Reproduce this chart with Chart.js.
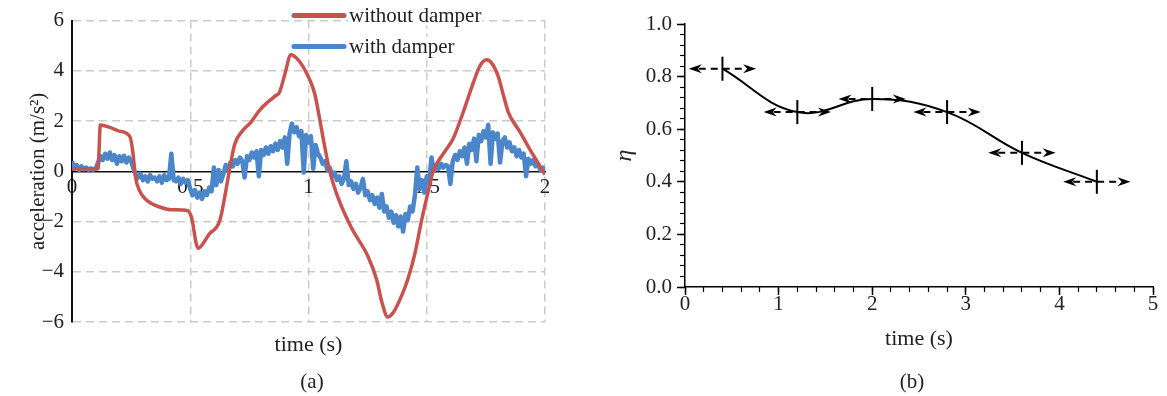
<!DOCTYPE html>
<html>
<head>
<meta charset="utf-8">
<script src="https://cdn.jsdelivr.net/npm/chart.js@4.4.1/dist/chart.umd.min.js"></script>
<style>
  body { margin: 0; background: #fff; width: 1167px; height: 396px; position: relative; overflow: hidden; font-family: 'Liberation Serif', 'DejaVu Serif', serif; }
  .panel { position: absolute; top: 0; }
  .tag { position: absolute; top: 369px; font-size: 21px; line-height: 24px; color: #222; transform: translateX(-50%); }
</style>
</head>
<body>
<div class="panel" style="left:0"><canvas id="accChart" width="583" height="396"></canvas></div>
<div class="panel" style="left:583px"><canvas id="etaChart" width="584" height="396"></canvas></div>
<div class="tag" style="left:312px">(a)</div>
<div class="tag" style="left:912px">(b)</div>
<script>
// (a) acceleration, without damper (smooth red trace)
const redTime = [0, 0.11, 0.12, 0.16, 0.20, 0.245, 0.257, 0.269, 0.286, 0.31, 0.34, 0.38, 0.42, 0.49,
  0.505, 0.533, 0.58, 0.625, 0.65, 0.665, 0.687, 0.72, 0.757, 0.79, 0.827, 0.86, 0.877, 0.898, 0.926,
  0.95, 0.976, 1.0, 1.026, 1.045, 1.062, 1.09, 1.125, 1.18, 1.252, 1.288, 1.31, 1.335, 1.36, 1.393,
  1.42, 1.45, 1.478, 1.50, 1.527, 1.57, 1.612, 1.654, 1.697, 1.725, 1.753, 1.775, 1.802, 1.825, 1.845,
  1.894, 1.95, 2.0]
const redAcc = [0.1, 0.1, 1.84, 1.75, 1.6, 1.38, 0.78, -0.26, -0.78, -1.1, -1.3, -1.45, -1.53, -1.57,
  -1.83, -3.06, -2.5, -1.96, -0.8, 0, 1.05, 1.6, 1.96, 2.4, 2.75, 3.0, 3.14, 3.79, 4.64,
  4.5, 4.18, 3.75, 3.1, 2.2, 1.31, 0, -1.05, -2.22, -3.4, -4.31, -5.2, -5.8, -5.6, -4.97,
  -4.3, -3.27, -1.96, -1.05, 0, 0.7, 1.31, 2.35, 3.53, 4.2, 4.44, 4.3, 3.79, 3.0, 2.35,
  1.57, 0.65, -0.13]

// (a) acceleration, with damper (noisy blue trace), one sample every 0.01 s
const blueStart = 0
const blueStep = 0.01
const blueAcc = [
  0.40, 0.10, 0.25, 0.05, 0.20, 0.08, 0.15, 0.05, 0.12, 0.06,
  0.10, 0.35, 0.60, 0.45, 0.70, 0.50, 0.75, 0.45, 0.65, 0.30,
  0.60, 0.40, 0.62, 0.35, 0.55, 0.40, 0.10, -0.15, -0.25, -0.10,
  -0.35, -0.20, -0.40, -0.15, -0.30, -0.25, -0.40, -0.20, -0.45, -0.15,
  -0.35, -0.30, 0.70, -0.35, -0.40, -0.25, -0.50, -0.30, -0.45, -0.35,
  -0.70, -0.95, -0.75, -1.05, -0.85, -1.10, -0.80, -0.95, -0.65, -0.80,
  0.15, -0.55, 0.05, -0.40, -0.10, 0.25, 0.05, 0.35, 0.20, 0.45,
  0.30, 0.55, 0.40, -0.25, 0.60, 0.45, 0.75, 0.55, 0.80, -0.20,
  0.85, 0.65, 0.95, 0.70, 1.00, 0.80, 1.10, 0.85, 1.20, 0.95,
  1.35, 0.30, 1.50, 1.90, 1.55, 1.75, 1.40, 1.60, -0.05, 1.45,
  1.15, 1.40, 0.10, 1.05, 0.70, 0.55, 0.30, 0.40, 0.05, 0.15,
  -0.20, -0.05, -0.35, -0.20, -0.50, -0.30, 0.40, -0.55, -0.40, -0.70,
  -0.50, -0.85, -0.65, -0.30, -0.95, -0.80, -1.15, -0.95, -1.30, -1.05,
  -1.45, -0.90, -1.60, -1.40, -1.85, -1.60, -2.05, -1.75, -2.20, -1.80,
  -2.40, -1.70, -1.95, -1.40, -1.60, -0.95, 0.15, -0.70, -0.35, -0.85,
  -0.20, -0.45, 0.55, 0.00, 0.20, 0.10, 0.30, 0.15, 0.25, 0.20,
  -0.50, 0.40, 0.65, 0.45, 0.80, 0.60, 0.95, 0.30, 1.10, 0.85,
  1.30, 0.40, 1.45, 1.20, 1.60, 1.35, 1.85, 0.30, 1.55, 1.30,
  1.50, 0.35, 1.20, 1.35, 0.95, 1.15, 0.80, 0.95, 0.60, 0.85,
  0.55, 0.70, -0.20, 0.50, 0.30, 0.45, 0.20, 0.30, 0.05, 0.15,
  0.00]

const accTicks = [-6, -4, -2, 0, 2, 4, 6]
const timeTicksA = [0, 0.5, 1, 1.5, 2]

// (b) efficiency eta
const etaTime = [0.4, 1.2, 2.0, 2.8, 3.6, 4.4]
const etaValue = [0.83, 0.665, 0.715, 0.665, 0.51, 0.40]
const etaSpread = 0.36 // half width of the time arrows (s)
const etaTicks = [0, 0.2, 0.4, 0.6, 0.8, 1.0]
const timeTicksB = [0, 1, 2, 3, 4, 5]

const SERIF = "'Liberation Serif', 'DejaVu Serif', serif"
Chart.defaults.font.family = SERIF
Chart.defaults.color = '#222'

const setTicks = list => scale => { scale.ticks = list.map(v => ({ value: v })) }
const minus = v => String(v).replace('-', '\u2212')
const GRID = '#cbcbcb'

const accLegend = {
  id: 'accLegend',
  afterDraw(chart) {
    const { ctx, chartArea } = chart
    const x0 = chartArea.left + 220
    ctx.save()
    ctx.font = '21px ' + SERIF
    chart.data.datasets.forEach((ds, i) => {
      const y = chartArea.top - 5 + i * 31
      const w = ctx.measureText(ds.label).width
      ctx.fillStyle = '#fff'
      ctx.fillRect(x0 + 56, y - 10, w + 2, 20)
      ctx.strokeStyle = ds.borderColor
      ctx.lineWidth = 5
      ctx.lineCap = 'round'
      ctx.beginPath()
      ctx.moveTo(x0 + 2, y)
      ctx.lineTo(x0 + 52, y)
      ctx.stroke()
      ctx.fillStyle = '#222'
      ctx.textBaseline = 'middle'
      ctx.fillText(ds.label, x0 + 57, y + 1)
    })
    ctx.restore()
  }
}

new Chart(document.getElementById('accChart'), {
  type: 'line',
  data: {
    datasets: [{
      label: 'without damper',
      data: redTime.map((t, i) => ({ x: t, y: redAcc[i] })),
      borderColor: '#c9524f',
      borderWidth: 3.5,
      cubicInterpolationMode: 'monotone',
      pointRadius: 0,
      xAxisID: 'x',
      yAxisID: 'y'
    }, {
      label: 'with damper',
      data: blueAcc.map((a, i) => ({ x: blueStart + i * blueStep, y: a })),
      borderColor: '#4a86c9',
      borderWidth: 4.5,
      borderJoinStyle: 'round',
      tension: 0,
      pointRadius: 0,
      xAxisID: 'x',
      yAxisID: 'y'
    }]
  },
  options: {
    responsive: false,
    animation: false,
    layout: { padding: { left: 0, top: 17, right: 38, bottom: 0 } },
    plugins: { legend: { display: false }, tooltip: { enabled: false } },
    scales: {
      x: {
        type: 'linear', position: 'bottom', min: 0, max: 2,
        afterBuildTicks: setTicks(timeTicksA),
        afterFit: s => { s.height = 74 },
        grid: { color: c => (c.tick && c.tick.value === 0 ? 'rgba(0,0,0,0)' : GRID), lineWidth: 1.5, drawTicks: false },
        border: { display: false, dash: [8, 5] },
        ticks: { display: false },
        title: { display: true, text: 'time (s)', font: { size: 22 }, padding: { top: 0, bottom: 38 } }
      },
      x2: {
        type: 'linear', axis: 'x', position: { y: 0 }, min: 0, max: 2,
        afterBuildTicks: setTicks(timeTicksA),
        grid: { drawOnChartArea: false, drawTicks: false },
        border: { color: '#111', width: 1.5 },
        ticks: { padding: 4, font: { size: 21 }, callback: v => String(v) }
      },
      y: {
        type: 'linear', min: -6, max: 6,
        afterBuildTicks: setTicks(accTicks),
        afterFit: s => { s.width = 72 },
        grid: { color: c => (c.tick && c.tick.value === 0 ? 'rgba(0,0,0,0)' : GRID), lineWidth: 1.5, drawTicks: false },
        border: { color: '#111', width: 2, dash: [8, 5] },
        ticks: { padding: 8, font: { size: 21 }, callback: v => minus(v) },
        title: { display: true, text: 'acceleration (m/s²)', font: { size: 21 }, padding: { top: 26, bottom: 0 } }
      }
    }
  },
  plugins: [accLegend]
})

function arrowHead(ctx, tipX, y, dir) {
  ctx.beginPath()
  ctx.moveTo(tipX, y)
  ctx.lineTo(tipX + dir * 13, y - 4.5)
  ctx.lineTo(tipX + dir * 9, y)
  ctx.lineTo(tipX + dir * 13, y + 4.5)
  ctx.closePath()
  ctx.fill()
}

const etaArrows = {
  id: 'etaArrows',
  afterDatasetsDraw(chart) {
    const { ctx, scales: { x, y } } = chart
    ctx.save()
    ctx.strokeStyle = '#000'
    ctx.fillStyle = '#000'
    ctx.lineWidth = 2
    etaTime.forEach((t, i) => {
      const py = y.getPixelForValue(etaValue[i])
      const l = x.getPixelForValue(t - etaSpread)
      const r = x.getPixelForValue(t + etaSpread)
      ctx.setLineDash([7, 5])
      ctx.beginPath()
      ctx.moveTo(l + 10, py)
      ctx.lineTo(r - 10, py)
      ctx.stroke()
      ctx.setLineDash([])
      arrowHead(ctx, l, py, 1)
      arrowHead(ctx, r, py, -1)
    })
    ctx.restore()
  }
}

new Chart(document.getElementById('etaChart'), {
  type: 'line',
  data: {
    datasets: [{
      label: 'eta',
      data: etaTime.map((t, i) => ({ x: t, y: etaValue[i] })),
      borderColor: '#000',
      borderWidth: 2,
      tension: 0.4,
      pointStyle: 'line',
      pointRotation: 90,
      pointRadius: 12,
      pointBorderWidth: 2,
      pointBorderColor: '#000',
      xAxisID: 'x',
      yAxisID: 'y'
    }]
  },
  options: {
    responsive: false,
    animation: false,
    layout: { padding: { left: 0, top: 24, right: 9, bottom: 0 } },
    plugins: { legend: { display: false }, tooltip: { enabled: false } },
    scales: {
      x: {
        type: 'linear', position: 'bottom', min: 0, max: 5,
        afterBuildTicks: setTicks(timeTicksB),
        afterFit: s => { s.height = 109 },
        grid: { drawOnChartArea: false, tickLength: 8, tickColor: '#000', tickWidth: 1.5 },
        border: { color: '#000', width: 1.5 },
        ticks: { padding: -3, font: { size: 21 } },
        title: { display: true, text: 'time (s)', font: { size: 22 }, padding: { top: 0, bottom: 44 } }
      },
      xMinor: {
        type: 'linear', axis: 'x', position: { y: 0 }, min: 0, max: 5,
        ticks: { display: false, stepSize: 0.2 },
        grid: { drawOnChartArea: false, tickLength: 5, tickColor: '#000', tickWidth: 1.2 },
        border: { display: false }
      },
      y: {
        type: 'linear', min: 0, max: 1,
        afterBuildTicks: setTicks(etaTicks),
        afterFit: s => { s.width = 102 },
        grid: { drawOnChartArea: false, tickLength: 8, tickColor: '#000', tickWidth: 1.5 },
        border: { color: '#000', width: 1.5 },
        ticks: { padding: 5, font: { size: 21 }, callback: v => v.toFixed(1) },
        title: { display: true, text: 'η', font: { size: 24, style: 'italic' }, padding: { top: 27, bottom: 0 } }
      },
      yMinor: {
        type: 'linear', axis: 'y', position: { x: 0 }, min: 0, max: 1,
        ticks: { display: false, stepSize: 0.04 },
        grid: { drawOnChartArea: false, tickLength: 5, tickColor: '#000', tickWidth: 1.2 },
        border: { display: false }
      }
    }
  },
  plugins: [etaArrows]
})
</script>
</body>
</html>
